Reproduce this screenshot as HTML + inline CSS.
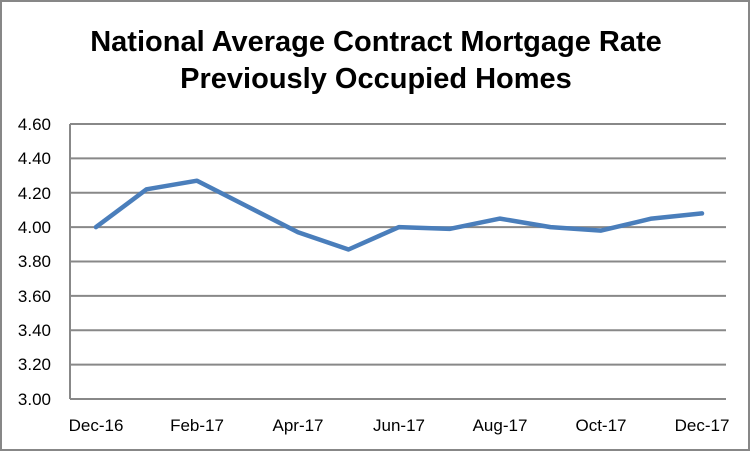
<!DOCTYPE html><html><head><style>body{margin:0;background:#fff}svg{display:block}text{font-family:"Liberation Sans",Calibri,sans-serif}</style></head><body>
<svg width="751" height="452" xmlns="http://www.w3.org/2000/svg">
<rect x="1" y="1" width="748" height="449" fill="#fff" stroke="#878787" stroke-width="2"/>
<text x="376" y="51" font-size="29" font-weight="bold" text-anchor="middle" fill="#000">National Average Contract Mortgage Rate</text>
<text x="376" y="88" font-size="29" font-weight="bold" text-anchor="middle" fill="#000">Previously Occupied Homes</text>
<g stroke="#888" stroke-width="2">
<line x1="70" x2="726" y1="124" y2="124"/><line x1="70" x2="726" y1="158.4" y2="158.4"/><line x1="70" x2="726" y1="192.8" y2="192.8"/><line x1="70" x2="726" y1="227.1" y2="227.1"/><line x1="70" x2="726" y1="261.5" y2="261.5"/><line x1="70" x2="726" y1="295.9" y2="295.9"/><line x1="70" x2="726" y1="330.3" y2="330.3"/><line x1="70" x2="726" y1="364.6" y2="364.6"/><line x1="70" x2="726" y1="399" y2="399"/>
<line x1="70" x2="70" y1="124" y2="399"/>
</g>
<g font-size="17" fill="#000" text-anchor="end">
<text x="51" y="130">4.60</text><text x="51" y="164">4.40</text><text x="51" y="199">4.20</text><text x="51" y="233">4.00</text><text x="51" y="267">3.80</text><text x="51" y="302">3.60</text><text x="51" y="336">3.40</text><text x="51" y="370">3.20</text><text x="51" y="405">3.00</text>
</g>
<g font-size="17" fill="#000" text-anchor="middle">
<text x="96" y="431">Dec-16</text><text x="197" y="431">Feb-17</text><text x="298" y="431">Apr-17</text><text x="399" y="431">Jun-17</text><text x="500" y="431">Aug-17</text><text x="601" y="431">Oct-17</text><text x="702" y="431">Dec-17</text>
</g>
<polyline fill="none" stroke="#4a7ebb" stroke-width="4.5" stroke-linejoin="round" stroke-linecap="round" points="96,227.1 146.5,189.3 197,180.7 247.5,206.5 298,232.3 348.5,249.5 399,227.1 449.5,228.9 500,218.6 550.5,227.1 601,230.6 651.5,218.6 702,213.4"/>
</svg></body></html>
